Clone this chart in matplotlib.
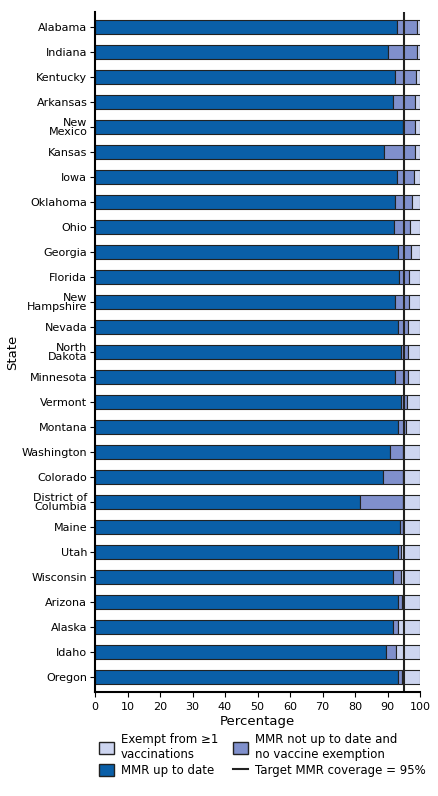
import matplotlib.pyplot as plt
from matplotlib.patches import Patch
from matplotlib.lines import Line2D

states = ["Alabama", "Indiana", "Kentucky", "Arkansas", "New\nMexico", "Kansas", "Iowa",
          "Oklahoma", "Ohio", "Georgia", "Florida", "New\nHampshire", "Nevada", "North\nDakota",
          "Minnesota", "Vermont", "Montana", "Washington", "Colorado", "District of\nColumbia",
          "Maine", "Utah", "Wisconsin", "Arizona", "Alaska", "Idaho", "Oregon"]
# MMR up to date (%)
up_to_date = [92.8, 90.3, 92.4, 91.6, 94.9, 88.8, 93.0, 92.4, 92.0, 93.3, 93.6, 92.4, 93.2, 94.1,
              92.4, 94.1, 93.2, 90.8, 88.5, 81.5, 93.8, 93.3, 91.8, 93.2, 91.6, 89.5, 93.3]
# MMR not up to date, no exemption (%)
not_utd = [6.4, 8.7, 6.3, 6.8, 3.5, 9.6, 5.0, 5.0, 5.0, 3.8, 3.0, 4.2, 3.1, 2.2,
           4.0, 1.9, 2.6, 4.1, 6.4, 13.4, 1.1, 1.0, 2.3, 1.4, 1.5, 3.2, 1.3]
exempt = [100 - a - b for a, b in zip(up_to_date, not_utd)]
target = 95

c_dark = "#0a5fa8"
c_mid = "#8090cc"
c_light = "#cdd5f0"

fig = plt.figure(figsize=(4.38, 7.96), dpi=100)
ax = fig.add_axes([95/438, 1 - 692/796, 325/438, 680/796])

y = list(range(len(states)))
h = 0.58
ax.barh(y, up_to_date, height=h, color=c_dark, edgecolor="#222222", linewidth=0.8)
ax.barh(y, not_utd, left=up_to_date, height=h, color=c_mid, edgecolor="#222222", linewidth=0.8)
left2 = [a + b for a, b in zip(up_to_date, not_utd)]
ax.barh(y, exempt, left=left2, height=h, color=c_light, edgecolor="#222222", linewidth=0.8)
ax.plot([target, target], [-0.7, len(states) - 0.3], color="#222222", linewidth=1.5)

ax.set_ylim(len(states) - 0.4, -0.6)
ax.set_xlim(0, 100)
ax.set_xticks(range(0, 101, 10))
ax.set_yticks(y)
ax.set_yticklabels(states, fontsize=8, linespacing=0.9)
ax.tick_params(axis="x", labelsize=8)
ax.tick_params(axis="y", pad=2)
ax.set_xlabel("Percentage", fontsize=9.5, labelpad=2)
ax.set_ylabel("State", fontsize=9.5, labelpad=2)
for s in ["top", "right"]:
    ax.spines[s].set_visible(False)
ax.spines["left"].set_linewidth(1.5)
ax.spines["bottom"].set_linewidth(1.5)

handles = [Patch(facecolor=c_light, edgecolor="#222222"),
           Patch(facecolor=c_dark, edgecolor="#222222"),
           Patch(facecolor=c_mid, edgecolor="#222222"),
           Line2D([0], [0], color="#222222", linewidth=1.5)]
labels = ["Exempt from \u22651\nvaccinations", "MMR up to date",
          "MMR not up to date and\nno vaccine exemption", "Target MMR coverage = 95%"]
fig.legend(handles, labels, ncol=2, loc="lower left", bbox_to_anchor=(88/438, 0.01),
           frameon=False, fontsize=8.5, handlelength=1.3, handleheight=1.2,
           columnspacing=1.2, labelspacing=0.3, handletextpad=0.6)

fig.savefig("out.png", dpi=100)
